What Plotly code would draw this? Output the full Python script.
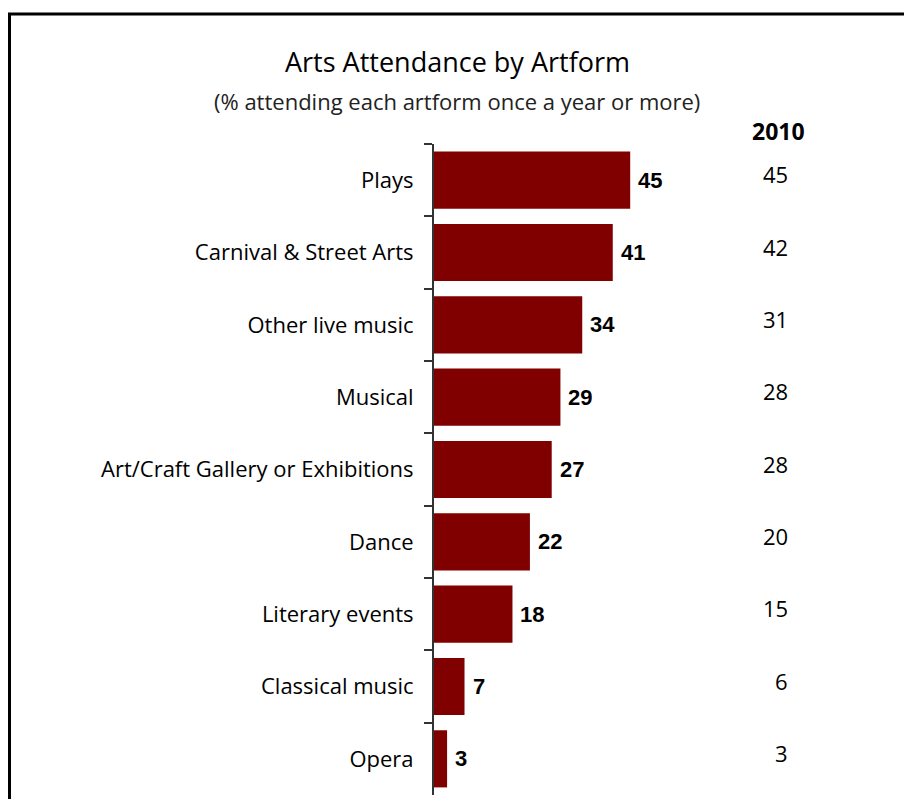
import plotly.graph_objects as go

# Attendance data (% attending once a year or more)
categories = ["Plays", "Carnival & Street Arts", "Other live music", "Musical",
              "Art/Craft Gallery or Exhibitions", "Dance", "Literary events",
              "Classical music", "Opera"]
current = [45, 41, 34, 29, 27, 22, 18, 7, 3]
values_2010 = [45, 42, 31, 28, 28, 20, 15, 6, 3]
column_header = "2010"

W, H = 904, 799
L, R, T, B = 434, 0, 144, 4
pw, ph = W - L - R, H - T - B

def px_x(x):
    return (x - L) / pw

def px_y(y):
    return (H - B - y) / ph

BAR_COLOR = "#800000"
LABEL_FONT = "'Open Sans', Lato, sans-serif"

fig = go.Figure()
fig.add_trace(go.Bar(
    x=current, y=categories, orientation="h",
    marker=dict(color=BAR_COLOR, line=dict(width=0)),
    hoverinfo="skip",
))

annotations = []
# value labels next to each bar
for c, v in zip(categories, current):
    annotations.append(dict(
        x=v, y=c, xref="x", yref="y", text=f"<b>{v}</b>",
        showarrow=False, xanchor="left", xshift=6,
        font=dict(family="'Liberation Sans', Arial, sans-serif", size=22, color="black"),
    ))
# 2010 comparison column
for c, v in zip(categories, values_2010):
    annotations.append(dict(
        x=px_x(790), y=c, xref="paper", yref="y", text=str(v),
        showarrow=False, xanchor="right", yshift=6,
        font=dict(family=LABEL_FONT, size=22, color="black"),
    ))
annotations.append(dict(
    x=px_x(778), y=px_y(131), xref="paper", yref="paper", text=f"<b>{column_header}</b>",
    showarrow=False, xanchor="center", yanchor="middle",
    font=dict(family=LABEL_FONT, size=23, color="black"),
))
annotations.append(dict(
    x=px_x(457), y=px_y(62), xref="paper", yref="paper", text="Arts Attendance by Artform",
    showarrow=False, xanchor="center", yanchor="middle",
    font=dict(family=LABEL_FONT, size=27, color="black"),
))
annotations.append(dict(
    x=px_x(457), y=px_y(101), xref="paper", yref="paper",
    text="(% attending each artform once a year or more)",
    showarrow=False, xanchor="center", yanchor="middle",
    font=dict(family=LABEL_FONT, size=22, color="#222222"),
))

# outer frame (top and left edges visible)
shapes = [dict(
    type="rect", xref="paper", yref="paper",
    x0=px_x(9.5), x1=px_x(960), y0=px_y(860), y1=px_y(14),
    line=dict(color="black", width=3), fillcolor="rgba(0,0,0,0)", layer="above",
)]

fig.update_layout(
    width=W, height=H,
    margin=dict(l=L, r=R, t=T, b=B, pad=0),
    paper_bgcolor="white", plot_bgcolor="white",
    showlegend=False,
    bargap=0.21,
    annotations=annotations,
    shapes=shapes,
    xaxis=dict(range=[0, pw / 4.36], visible=False, fixedrange=True),
    yaxis=dict(
        autorange="reversed", type="category",
        showline=True, linecolor="#333333", linewidth=2,
        ticks="outside", tickson="boundaries", ticklen=8, tickwidth=2, tickcolor="#333333",
        ticklabelstandoff=14,
        tickfont=dict(family=LABEL_FONT, size=22, color="black"),
        showgrid=False, zeroline=False, fixedrange=True,
    ),
)

fig.write_html("out.html")
